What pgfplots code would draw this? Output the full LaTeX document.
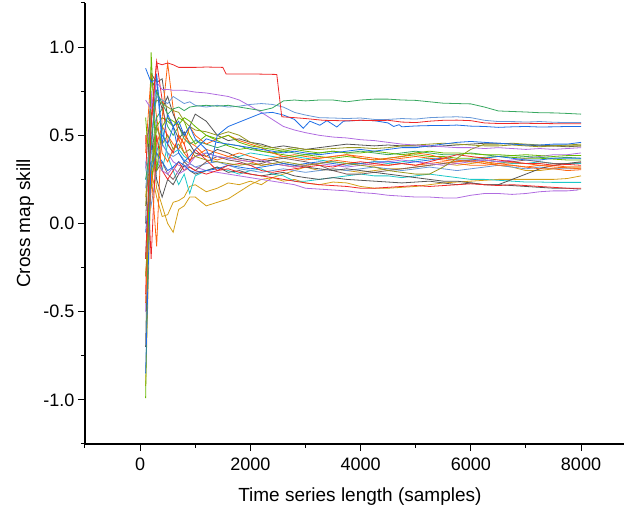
\documentclass[border=0pt]{standalone}
\usepackage{pgfplots}
\pgfplotsset{compat=1.18}
\usepackage{fontspec}
\setmainfont{Liberation Sans}

\definecolor{myred}{RGB}{238,40,40}
\definecolor{mygreen}{RGB}{56,168,96}
\definecolor{myblue}{RGB}{30,110,230}
\definecolor{mysteel}{RGB}{104,152,216}
\definecolor{mypurple}{RGB}{176,108,224}
\definecolor{myolive}{RGB}{150,150,30}
\definecolor{myorange}{RGB}{255,100,16}
\definecolor{mygray}{RGB}{85,85,85}
\definecolor{mycyan}{RGB}{28,200,200}
\definecolor{mylime}{RGB}{104,184,0}
\definecolor{mygold}{RGB}{212,160,24}
\definecolor{mybrown}{RGB}{128,96,96}

\begin{document}
\begin{tikzpicture}
\begin{axis}[
    scale only axis,
    width=539pt, height=441pt,
    xmin=-1000, xmax=8780,
    ymin=-1.25, ymax=1.25,
    axis x line=bottom, axis y line=left,
    axis line style={-, line width=1.2pt},
    tick align=outside,
    every tick/.style={black, line width=1pt},
    major tick length=7pt, minor tick length=4pt,
    xtick={0,2000,4000,6000,8000},
    minor xtick={-1000,1000,3000,5000,7000},
    ytick={-1,-0.5,0,0.5,1},
    yticklabels={-1.0,-0.5,0.0,0.5,1.0},
    minor ytick={-1.25,-0.75,-0.25,0.25,0.75,1.25},
    scaled x ticks=false,
    /pgf/number format/1000 sep={},
    /pgf/number format/assume math mode=true,
    ticklabel style={font=\fontsize{18}{21}\selectfont},
    xticklabel style={yshift=-3pt},
    label style={font=\fontsize{19}{23}\selectfont},
    xlabel={Time series length (samples)},
    ylabel={Cross map skill},
    xlabel style={at={(axis description cs:0.51,-0.12)}, anchor=center},
    ylabel style={at={(axis description cs:-0.111,0.5)}, anchor=center},
    every axis plot/.append style={line width=0.8pt},
]
% gold
\addplot[mygold] coordinates {(100,-0.92)(200,0.30)(300,0.15)(400,0.04)(500,0.05)(600,0.12)(700,0.13)(800,0.15)(900,0.21)(1000,0.22)(1200,0.18)(1400,0.20)(1600,0.23)(1800,0.22)(2000,0.24)(2200,0.22)(2400,0.26)(2600,0.24)(2800,0.25)(3000,0.23)(3250,0.22)(3500,0.235)(3750,0.23)(4000,0.21)(4250,0.20)(4500,0.20)(4750,0.205)(5000,0.21)(5250,0.22)(5500,0.23)(5750,0.235)(6000,0.24)(6250,0.245)(6500,0.25)(6750,0.25)(7000,0.25)(7250,0.25)(7500,0.25)(7750,0.255)(8000,0.27)};
\addplot[mygold] coordinates {(100,0.15)(200,0.50)(300,0.20)(400,0.10)(500,0.00)(600,-0.05)(700,0.08)(800,0.10)(900,0.15)(1000,0.15)(1200,0.10)(1400,0.12)(1600,0.14)(1800,0.18)(2000,0.22)(2200,0.25)(2400,0.26)(2600,0.28)(2800,0.30)(3000,0.32)(3250,0.30)(3500,0.31)(3750,0.30)(4000,0.29)(4250,0.30)(4500,0.31)(4750,0.31)(5000,0.32)(5250,0.33)(5500,0.34)(5750,0.33)(6000,0.34)(6250,0.35)(6500,0.33)(6750,0.32)(7000,0.30)(7250,0.30)(7500,0.31)(7750,0.32)(8000,0.32)};
% low purple
\addplot[mypurple] coordinates {(100,0.32)(200,0.70)(300,0.55)(400,0.45)(500,0.40)(600,0.35)(700,0.33)(800,0.32)(900,0.34)(1000,0.32)(1200,0.30)(1400,0.29)(1600,0.28)(1800,0.27)(2000,0.26)(2200,0.25)(2400,0.24)(2600,0.23)(2800,0.22)(3000,0.20)(3250,0.195)(3500,0.19)(3750,0.185)(4000,0.175)(4250,0.17)(4500,0.16)(4750,0.155)(5000,0.15)(5250,0.15)(5500,0.145)(5750,0.145)(6000,0.16)(6250,0.17)(6500,0.17)(6750,0.165)(7000,0.17)(7250,0.18)(7500,0.185)(7750,0.185)(7950,0.19)};
% cyan
\addplot[mycyan] coordinates {(100,0.35)(200,0.25)(300,0.40)(400,0.55)(500,0.38)(600,0.30)(700,0.22)(800,0.28)(900,0.17)(1000,0.27)(1200,0.30)(1400,0.32)(1600,0.30)(1800,0.28)(2000,0.30)(2200,0.31)(2400,0.28)(2600,0.27)(2800,0.24)(3000,0.24)(3250,0.25)(3500,0.26)(3750,0.27)(4000,0.28)(4250,0.27)(4500,0.27)(4750,0.26)(5000,0.27)(5250,0.28)(5500,0.27)(5750,0.26)(6000,0.25)(6250,0.25)(6500,0.245)(6750,0.24)(7000,0.235)(7250,0.235)(7500,0.233)(7750,0.233)(8000,0.233)};
\addplot[mycyan] coordinates {(100,0.25)(200,0.35)(300,0.35)(400,0.30)(500,0.45)(600,0.40)(700,0.42)(800,0.38)(900,0.36)(1000,0.38)(1200,0.40)(1400,0.38)(1600,0.37)(1800,0.38)(2000,0.40)(2200,0.39)(2400,0.38)(2600,0.37)(2800,0.38)(3000,0.37)(3250,0.36)(3500,0.35)(3750,0.34)(4000,0.34)(4250,0.35)(4500,0.34)(4750,0.35)(5000,0.36)(5250,0.37)(5500,0.37)(5750,0.36)(6000,0.35)(6250,0.36)(6500,0.35)(6750,0.34)(7000,0.34)(7250,0.35)(7500,0.34)(7750,0.34)(8000,0.34)};
\addplot[mysteel] coordinates {(100,0.32)(200,0.10)(300,0.30)(400,0.45)(500,0.40)(600,0.38)(700,0.40)(800,0.36)(900,0.34)(1000,0.32)(1200,0.34)(1400,0.35)(1600,0.33)(1800,0.31)(2000,0.30)(2200,0.29)(2400,0.30)(2600,0.31)(2800,0.30)(3000,0.29)(3250,0.30)(3500,0.31)(3750,0.30)(4000,0.31)(4250,0.32)(4500,0.31)(4750,0.30)(5000,0.31)(5250,0.32)(5500,0.31)(5750,0.30)(6000,0.31)(6250,0.32)(6500,0.33)(6750,0.32)(7000,0.31)(7250,0.32)(7500,0.31)(7750,0.31)(8000,0.31)};
\addplot[mybrown] coordinates {(100,0.45)(200,0.60)(300,0.30)(400,0.35)(500,0.28)(600,0.25)(700,0.30)(800,0.35)(900,0.32)(1000,0.30)(1200,0.35)(1400,0.38)(1600,0.36)(1800,0.35)(2000,0.33)(2200,0.34)(2400,0.36)(2600,0.37)(2800,0.36)(3000,0.35)(3250,0.33)(3500,0.30)(3750,0.28)(4000,0.28)(4250,0.29)(4500,0.30)(4750,0.31)(5000,0.32)(5250,0.33)(5500,0.34)(5750,0.35)(6000,0.36)(6250,0.36)(6500,0.35)(6750,0.35)(7000,0.36)(7250,0.35)(7500,0.34)(7750,0.34)(8000,0.345)};
% grey
\addplot[mygray] coordinates {(100,-0.20)(200,0.50)(300,0.25)(400,0.15)(500,0.25)(600,0.22)(700,0.28)(800,0.33)(900,0.30)(1000,0.28)(1200,0.30)(1400,0.32)(1600,0.29)(1800,0.30)(2000,0.28)(2200,0.27)(2400,0.28)(2600,0.29)(2800,0.27)(3000,0.26)(3250,0.25)(3500,0.26)(3750,0.25)(4000,0.245)(4250,0.24)(4500,0.235)(4750,0.23)(5000,0.235)(5250,0.24)(5500,0.23)(5750,0.22)(6000,0.23)(6250,0.22)(6500,0.22)(6750,0.25)(7000,0.28)(7250,0.31)(7500,0.33)(7750,0.34)(8000,0.35)};
\addplot[mygray] coordinates {(100,-0.70)(200,0.85)(300,0.80)(400,0.82)(500,0.60)(600,0.55)(700,0.48)(800,0.52)(900,0.45)(1000,0.40)(1200,0.38)(1400,0.42)(1600,0.40)(1800,0.37)(2000,0.36)(2200,0.35)(2400,0.36)(2600,0.34)(2800,0.33)(3000,0.32)(3250,0.31)(3500,0.30)(3750,0.31)(4000,0.30)(4250,0.29)(4500,0.28)(4750,0.27)(5000,0.26)(5250,0.25)(5500,0.24)(5750,0.24)(6000,0.23)(6250,0.22)(6500,0.22)(6750,0.215)(7000,0.21)(7250,0.205)(7500,0.20)(7750,0.20)(8000,0.195)};
% red, orange
\addplot[myred] coordinates {(100,0.50)(200,-0.20)(300,0.50)(400,0.30)(500,0.25)(600,0.30)(700,0.35)(800,0.30)(900,0.32)(1000,0.30)(1200,0.28)(1400,0.30)(1600,0.31)(1800,0.29)(2000,0.28)(2200,0.27)(2400,0.26)(2600,0.25)(2800,0.24)(3000,0.23)(3250,0.22)(3500,0.215)(3750,0.21)(4000,0.20)(4250,0.20)(4500,0.205)(4750,0.21)(5000,0.215)(5250,0.21)(5500,0.215)(5750,0.22)(6000,0.225)(6250,0.22)(6500,0.215)(6750,0.22)(7000,0.215)(7250,0.21)(7500,0.205)(7750,0.20)(8000,0.20)};
\addplot[myorange] coordinates {(100,0.40)(200,0.85)(300,0.60)(400,0.40)(500,0.35)(600,0.42)(700,0.48)(800,0.40)(900,0.36)(1000,0.38)(1200,0.42)(1400,0.40)(1600,0.38)(1800,0.36)(2000,0.35)(2200,0.33)(2400,0.34)(2600,0.33)(2800,0.32)(3000,0.33)(3250,0.34)(3500,0.36)(3750,0.35)(4000,0.34)(4250,0.33)(4500,0.33)(4750,0.34)(5000,0.33)(5250,0.34)(5500,0.35)(5750,0.34)(6000,0.33)(6250,0.33)(6500,0.34)(6750,0.33)(7000,0.32)(7250,0.33)(7500,0.32)(7750,0.315)(8000,0.31)};
\addplot[myorange] coordinates {(100,-0.30)(200,0.20)(300,0.45)(400,0.55)(500,0.50)(600,0.45)(700,0.42)(800,0.50)(900,0.46)(1000,0.44)(1200,0.38)(1400,0.36)(1600,0.38)(1800,0.40)(2000,0.38)(2200,0.36)(2400,0.37)(2600,0.38)(2800,0.39)(3000,0.38)(3250,0.37)(3500,0.38)(3750,0.39)(4000,0.38)(4250,0.37)(4500,0.36)(4750,0.37)(5000,0.38)(5250,0.37)(5500,0.36)(5750,0.35)(6000,0.36)(6250,0.35)(6500,0.34)(6750,0.345)(7000,0.34)(7250,0.33)(7500,0.33)(7750,0.32)(8000,0.32)};
\addplot[mypurple] coordinates {(100,-0.50)(200,0.75)(300,0.40)(400,0.30)(500,0.28)(600,0.32)(700,0.28)(800,0.30)(900,0.34)(1000,0.38)(1200,0.40)(1400,0.38)(1600,0.37)(1800,0.36)(2000,0.35)(2200,0.36)(2400,0.34)(2600,0.33)(2800,0.32)(3000,0.33)(3250,0.34)(3500,0.33)(3750,0.32)(4000,0.33)(4250,0.34)(4500,0.35)(4750,0.36)(5000,0.35)(5250,0.34)(5500,0.33)(5750,0.34)(6000,0.35)(6250,0.36)(6500,0.35)(6750,0.36)(7000,0.37)(7250,0.38)(7500,0.39)(7750,0.39)(8000,0.40)};
\addplot[mygreen] coordinates {(100,0.25)(200,0.30)(300,0.60)(400,0.65)(500,0.55)(600,0.50)(700,0.55)(800,0.48)(900,0.45)(1000,0.47)(1200,0.45)(1400,0.43)(1600,0.45)(1800,0.44)(2000,0.42)(2200,0.41)(2400,0.40)(2600,0.41)(2800,0.40)(3000,0.39)(3250,0.40)(3500,0.41)(3750,0.40)(4000,0.41)(4250,0.40)(4500,0.39)(4750,0.40)(5000,0.41)(5250,0.40)(5500,0.39)(5750,0.39)(6000,0.40)(6250,0.39)(6500,0.38)(6750,0.385)(7000,0.38)(7250,0.375)(7500,0.37)(7750,0.375)(8000,0.37)};
\addplot[mylime] coordinates {(100,0.60)(200,0.20)(300,0.55)(400,0.60)(500,0.58)(600,0.55)(700,0.60)(800,0.58)(900,0.50)(1000,0.45)(1200,0.50)(1400,0.47)(1600,0.44)(1800,0.42)(2000,0.43)(2200,0.41)(2400,0.40)(2600,0.39)(2800,0.38)(3000,0.39)(3250,0.38)(3500,0.37)(3750,0.38)(4000,0.37)(4250,0.36)(4500,0.37)(4750,0.38)(5000,0.39)(5250,0.38)(5500,0.38)(5750,0.37)(6000,0.37)(6250,0.375)(6500,0.38)(6750,0.375)(7000,0.37)(7250,0.37)(7500,0.365)(7750,0.36)(8000,0.36)};
\addplot[myblue] coordinates {(100,-0.05)(200,0.30)(300,0.40)(400,0.35)(500,0.30)(600,0.32)(700,0.35)(800,0.33)(900,0.30)(1000,0.29)(1200,0.30)(1400,0.31)(1600,0.33)(1800,0.32)(2000,0.31)(2200,0.32)(2400,0.33)(2600,0.34)(2800,0.33)(3000,0.34)(3250,0.35)(3500,0.34)(3750,0.33)(4000,0.34)(4250,0.35)(4500,0.35)(4750,0.34)(5000,0.35)(5250,0.36)(5500,0.37)(5750,0.36)(6000,0.36)(6250,0.37)(6500,0.38)(6750,0.37)(7000,0.36)(7250,0.36)(7500,0.37)(7750,0.37)(8000,0.37)};
\addplot[myred] coordinates {(100,-0.40)(200,0.60)(300,0.92)(400,0.70)(500,0.45)(600,0.40)(700,0.50)(800,0.45)(900,0.35)(1000,0.42)(1200,0.36)(1400,0.30)(1600,0.33)(1800,0.34)(2000,0.33)(2200,0.30)(2400,0.29)(2600,0.30)(2800,0.31)(3000,0.32)(3250,0.33)(3500,0.32)(3750,0.34)(4000,0.35)(4250,0.34)(4500,0.33)(4750,0.34)(5000,0.33)(5250,0.35)(5500,0.37)(5750,0.39)(6000,0.38)(6250,0.37)(6500,0.36)(6750,0.35)(7000,0.34)(7250,0.34)(7500,0.33)(7750,0.335)(8000,0.33)};
\addplot[myolive] coordinates {(100,-0.30)(200,0.30)(300,0.55)(400,0.45)(500,0.50)(600,0.42)(700,0.45)(800,0.40)(900,0.42)(1000,0.38)(1200,0.36)(1400,0.35)(1600,0.34)(1800,0.33)(2000,0.34)(2200,0.33)(2400,0.34)(2600,0.35)(2800,0.34)(3000,0.33)(3250,0.34)(3500,0.35)(3750,0.34)(4000,0.33)(4250,0.32)(4500,0.30)(4750,0.29)(5000,0.28)(5250,0.28)(5500,0.32)(5750,0.37)(6000,0.42)(6250,0.45)(6500,0.45)(6750,0.455)(7000,0.45)(7250,0.445)(7500,0.44)(7750,0.445)(8000,0.45)};
\addplot[myorange] coordinates {(100,-0.45)(200,0.30)(300,-0.13)(400,0.60)(500,0.91)(600,0.65)(700,0.50)(800,0.45)(900,0.55)(1000,0.50)(1200,0.45)(1400,0.48)(1600,0.50)(1800,0.47)(2000,0.45)(2200,0.43)(2400,0.40)(2600,0.38)(2800,0.37)(3000,0.36)(3250,0.37)(3500,0.38)(3750,0.39)(4000,0.37)(4250,0.36)(4500,0.37)(4750,0.38)(5000,0.40)(5250,0.39)(5500,0.37)(5750,0.36)(6000,0.35)(6250,0.34)(6500,0.33)(6750,0.33)(7000,0.32)(7250,0.31)(7500,0.31)(7750,0.30)(8000,0.305)};
\addplot[mygray] coordinates {(100,0.00)(200,0.82)(300,0.75)(400,0.65)(500,0.72)(600,0.62)(700,0.55)(800,0.50)(900,0.55)(1000,0.62)(1200,0.58)(1400,0.50)(1600,0.47)(1800,0.48)(2000,0.46)(2200,0.45)(2400,0.43)(2600,0.44)(2800,0.43)(3000,0.42)(3250,0.43)(3500,0.44)(3750,0.45)(4000,0.445)(4250,0.44)(4500,0.445)(4750,0.44)(5000,0.44)(5250,0.435)(5500,0.44)(5750,0.445)(6000,0.45)(6250,0.455)(6500,0.455)(6750,0.45)(7000,0.445)(7250,0.44)(7500,0.44)(7750,0.435)(8000,0.44)};
\addplot[myolive] coordinates {(100,0.10)(200,0.60)(300,0.70)(400,0.68)(500,0.66)(600,0.64)(700,0.63)(800,0.58)(900,0.55)(1000,0.53)(1200,0.52)(1400,0.50)(1600,0.52)(1800,0.50)(2000,0.46)(2200,0.44)(2400,0.43)(2600,0.42)(2800,0.43)(3000,0.42)(3250,0.42)(3500,0.425)(3750,0.43)(4000,0.43)(4250,0.425)(4500,0.43)(4750,0.44)(5000,0.445)(5250,0.45)(5500,0.455)(5750,0.45)(6000,0.445)(6250,0.44)(6500,0.44)(6750,0.445)(7000,0.44)(7250,0.435)(7500,0.44)(7750,0.44)(8000,0.44)};
\addplot[mylime] coordinates {(100,-0.99)(200,0.97)(300,0.30)(400,0.55)(500,0.60)(600,0.58)(700,0.56)(800,0.60)(900,0.58)(1000,0.55)(1200,0.50)(1400,0.48)(1600,0.50)(1800,0.46)(2000,0.44)(2200,0.43)(2400,0.42)(2600,0.41)(2800,0.42)(3000,0.41)(3250,0.40)(3500,0.41)(3750,0.40)(4000,0.40)(4250,0.41)(4500,0.40)(4750,0.39)(5000,0.40)(5250,0.41)(5500,0.40)(5750,0.40)(6000,0.395)(6250,0.39)(6500,0.39)(6750,0.385)(7000,0.39)(7250,0.385)(7500,0.38)(7750,0.385)(8000,0.385)};
\addplot[myblue] coordinates {(100,-0.85)(200,0.40)(300,0.85)(400,0.50)(500,0.45)(600,0.55)(700,0.40)(800,0.35)(900,0.38)(1000,0.42)(1200,0.48)(1400,0.46)(1600,0.45)(1800,0.44)(2000,0.43)(2200,0.42)(2400,0.41)(2600,0.40)(2800,0.41)(3000,0.40)(3250,0.39)(3500,0.40)(3750,0.41)(4000,0.42)(4250,0.41)(4500,0.42)(4750,0.43)(5000,0.43)(5250,0.44)(5500,0.45)(5750,0.46)(6000,0.465)(6250,0.46)(6500,0.455)(6750,0.45)(7000,0.445)(7250,0.445)(7500,0.45)(7750,0.45)(8000,0.46)};
% upper group
\addplot[mypurple] coordinates {(100,0.70)(200,0.65)(300,0.80)(400,0.76)(500,0.76)(600,0.755)(700,0.755)(800,0.755)(900,0.75)(1000,0.745)(1200,0.74)(1400,0.73)(1600,0.72)(1800,0.70)(2000,0.665)(2200,0.63)(2400,0.59)(2600,0.55)(2800,0.53)(3000,0.515)(3250,0.50)(3500,0.49)(3750,0.485)(4000,0.475)(4250,0.47)(4500,0.46)(4750,0.45)(5000,0.445)(5250,0.44)(5500,0.435)(5750,0.43)(6000,0.43)(6250,0.425)(6500,0.43)(6750,0.425)(7000,0.42)(7250,0.425)(7500,0.42)(7750,0.425)(8000,0.43)};
\addplot[mysteel] coordinates {(100,0.20)(200,0.50)(300,0.72)(400,0.70)(500,0.68)(600,0.72)(700,0.70)(800,0.68)(900,0.69)(1000,0.67)(1200,0.66)(1400,0.67)(1600,0.66)(1800,0.665)(2000,0.675)(2200,0.68)(2400,0.675)(2600,0.66)(2800,0.63)(3000,0.615)(3250,0.60)(3500,0.598)(3750,0.595)(4000,0.598)(4250,0.59)(4500,0.59)(4750,0.595)(5000,0.592)(5250,0.60)(5500,0.603)(5750,0.605)(6000,0.60)(6250,0.585)(6500,0.578)(6750,0.578)(7000,0.575)(7250,0.578)(7500,0.574)(7750,0.572)(8000,0.572)};
\addplot[myblue] coordinates {(100,0.88)(200,0.80)(300,0.82)(400,0.45)(500,0.62)(600,0.55)(700,0.58)(800,0.50)(900,0.55)(1000,0.48)(1200,0.42)(1300,0.35)(1400,0.50)(1600,0.55)(1800,0.575)(2000,0.60)(2200,0.625)(2400,0.63)(2600,0.615)(2800,0.59)(2960,0.54)(3080,0.58)(3260,0.557)(3390,0.583)(3570,0.547)(3690,0.58)(4000,0.585)(4250,0.583)(4500,0.57)(4600,0.55)(4700,0.56)(4750,0.548)(5000,0.553)(5250,0.555)(5500,0.555)(5750,0.558)(6000,0.552)(6250,0.55)(6500,0.545)(6750,0.548)(7000,0.55)(7250,0.547)(7500,0.548)(7750,0.55)(8000,0.55)};
\addplot[mygreen] coordinates {(100,0.25)(200,0.45)(300,0.75)(400,0.68)(500,0.62)(600,0.65)(700,0.66)(800,0.64)(900,0.66)(1000,0.665)(1200,0.67)(1400,0.665)(1600,0.67)(1800,0.66)(2000,0.65)(2200,0.64)(2400,0.655)(2600,0.695)(2800,0.70)(3000,0.695)(3250,0.70)(3500,0.70)(3750,0.69)(4000,0.70)(4250,0.705)(4500,0.705)(4750,0.70)(5000,0.698)(5250,0.69)(5500,0.682)(5750,0.68)(6000,0.678)(6250,0.66)(6500,0.638)(6750,0.635)(7000,0.632)(7250,0.628)(7500,0.627)(7750,0.624)(8000,0.62)};
\addplot[myred] coordinates {(100,-0.20)(200,0.55)(300,0.91)(400,0.90)(500,0.91)(600,0.90)(700,0.885)(800,0.885)(1000,0.885)(1200,0.887)(1500,0.885)(1560,0.848)(2000,0.848)(2480,0.845)(2570,0.605)(2800,0.60)(3000,0.595)(3320,0.585)(3750,0.582)(4000,0.585)(4250,0.583)(4500,0.585)(4750,0.575)(5000,0.572)(5250,0.58)(5500,0.585)(5750,0.586)(6000,0.583)(6250,0.57)(6500,0.567)(7000,0.568)(7500,0.566)(8000,0.566)};
\end{axis}
\pgfresetboundingbox
\path[use as bounding box] ([shift={(-85pt,-68pt)}]current axis.south west) rectangle ([shift={(0pt,3pt)}]current axis.north east);
\end{tikzpicture}
\end{document}
